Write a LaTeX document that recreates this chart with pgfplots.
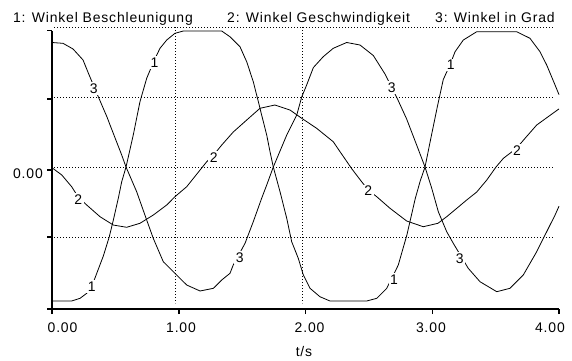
\documentclass[border=0pt]{standalone}
\usepackage{fontspec}
\setmainfont{Liberation Sans}[LetterSpace=6]
\usepackage{pgfplots}
\pgfplotsset{compat=1.18}
\begin{document}
\begin{tikzpicture}[font=\fontsize{14}{16}\selectfont]
\begin{axis}[
  x=126.75bp, y=70bp,
  xmin=0, xmax=4, ymin=-2.03, ymax=1.95,
  axis x line=bottom, axis y line=left,
  axis line style={-, line width=2bp, black},
  xtick={0,1,2,3,4}, ytick={-2.03,-1.0,-0.04,0.97,1.95},
  xticklabels={,,,,}, yticklabels={,,,,},
  tick align=outside, major tick length=5bp,
  tick style={line width=1.5bp, black},
  clip=false,
  grid style={black, line width=0.7bp, dash pattern=on 0.8bp off 2.2bp},
]
% invisible frame fixing the picture size
\path (axis cs:-0.4103,-2.757) rectangle (axis cs:4.1026,2.386);
% dotted grid
\addplot[black, line width=0.7bp, dash pattern=on 0.8bp off 2.2bp] coordinates {(0.016,2) (3.953,2)};
\addplot[black, line width=0.7bp, dash pattern=on 0.8bp off 2.2bp] coordinates {(0.016,1) (3.953,1)};
\addplot[black, line width=0.7bp, dash pattern=on 0.8bp off 2.2bp] coordinates {(0.016,0) (3.953,0)};
\addplot[black, line width=0.7bp, dash pattern=on 0.8bp off 2.2bp] coordinates {(0.016,-1) (3.953,-1)};
\addplot[black, line width=0.7bp, dash pattern=on 0.8bp off 2.2bp] coordinates {(0.970,2) (0.970,-1.943)};
\addplot[black, line width=0.7bp, dash pattern=on 0.8bp off 2.2bp] coordinates {(1.978,2) (1.978,-1.943)};
% 1: Winkel Beschleunigung
\addplot[black, line width=0.8bp, mark=none] table {
0 -1.914
0.155 -1.914
0.221 -1.876
0.274 -1.804
0.313 -1.710
0.353 -1.519
0.405 -1.271
0.452 -0.996
0.484 -0.757
0.523 -0.447
0.550 -0.21
0.584 0
0.641 0.457
0.694 0.933
0.747 1.267
0.773 1.38
0.813 1.55
0.852 1.696
0.905 1.814
0.970 1.910
1.036 1.943
1.339 1.943
1.404 1.861
1.483 1.719
1.536 1.504
1.588 1.219
1.628 0.933
1.654 0.743
1.694 0.457
1.720 0.219
1.746 0
1.799 -0.353
1.852 -0.733
1.891 -1.067
1.943 -1.304
1.983 -1.543
2.036 -1.733
2.114 -1.853
2.193 -1.914
2.483 -1.914
2.562 -1.876
2.641 -1.733
2.682 -1.586
2.732 -1.4
2.800 -0.97
2.866 -0.45
2.905 -0.2
2.943 0
2.990 0.42
3.040 0.86
3.087 1.25
3.140 1.46
3.180 1.647
3.245 1.814
3.351 1.933
3.666 1.933
3.771 1.839
3.850 1.647
3.903 1.457
3.969 1.171
4.0 1.034
};
% 2: Winkel Geschwindigkeit
\addplot[black, line width=0.8bp, mark=none] table {
0 -0.01
0.077 -0.114
0.155 -0.281
0.207 -0.43
0.274 -0.543
0.379 -0.71
0.484 -0.829
0.589 -0.861
0.694 -0.804
0.799 -0.686
0.905 -0.543
0.970 -0.424
1.063 -0.281
1.168 -0.043
1.221 0.076
1.270 0.16
1.339 0.314
1.430 0.5
1.536 0.671
1.641 0.839
1.759 0.886
1.878 0.814
1.970 0.696
2.088 0.553
2.219 0.361
2.272 0.22
2.367 -0.03
2.443 -0.21
2.495 -0.33
2.562 -0.424
2.667 -0.59
2.798 -0.771
2.929 -0.853
3.045 -0.804
3.114 -0.71
3.272 -0.471
3.351 -0.357
3.430 -0.186
3.503 0
3.561 0.124
3.613 0.196
3.666 0.27
3.732 0.41
3.824 0.6
3.969 0.79
4.0 0.83
};
% 3: Winkel in Grad
\addplot[black, line width=0.8bp, mark=none] table {
0 1.779
0.087 1.767
0.166 1.686
0.245 1.529
0.287 1.34
0.373 0.971
0.434 0.714
0.458 0.6
0.550 0.171
0.584 0
0.668 -0.353
0.747 -0.757
0.799 -1.019
0.878 -1.353
0.970 -1.519
1.063 -1.686
1.168 -1.771
1.273 -1.733
1.339 -1.614
1.404 -1.519
1.430 -1.4
1.523 -1.09
1.588 -0.781
1.654 -0.447
1.694 -0.257
1.746 0
1.852 0.457
1.931 0.743
1.970 1.0
2.009 1.171
2.062 1.421
2.140 1.576
2.219 1.696
2.325 1.779
2.430 1.743
2.535 1.593
2.627 1.329
2.726 0.971
2.798 0.686
2.877 0.314
2.943 0
2.996 -0.304
3.048 -0.639
3.114 -0.924
3.166 -1.09
3.284 -1.447
3.377 -1.639
3.509 -1.781
3.613 -1.733
3.718 -1.543
3.824 -1.21
3.903 -0.924
3.969 -0.686
4.0 -0.56
};
% curve labels
\tikzset{cl/.style={fill=white, inner sep=1.5bp}}
\node[cl] at (axis cs:0.313,-1.71) {1};
\node[cl] at (axis cs:0.809,1.497) {1};
\node[cl] at (axis cs:2.698,-1.61) {1};
\node[cl] at (axis cs:3.146,1.457) {1};
\node[cl] at (axis cs:0.207,-0.469) {2};
\node[cl] at (axis cs:1.276,0.14) {2};
\node[cl] at (axis cs:2.495,-0.343) {2};
\node[cl] at (axis cs:3.669,0.236) {2};
\node[cl] at (axis cs:0.329,1.124) {3};
\node[cl] at (axis cs:1.481,-1.293) {3};
\node[cl] at (axis cs:2.680,1.133) {3};
\node[cl] at (axis cs:3.217,-1.303) {3};
% titles
\node[anchor=base west, inner sep=0] at (axis cs:-0.308,2.071) {1: Winkel Beschleunigung};
\node[anchor=base west, inner sep=0] at (axis cs:1.381,2.071) {2: Winkel Geschwindigkeit};
\node[anchor=base west, inner sep=0] at (axis cs:3.022,2.071) {3: Winkel in Grad};
% tick labels
\node[anchor=east, inner sep=0] at (axis cs:-0.071,-0.093) {0.00};
\node[anchor=base, inner sep=0] at (axis cs:0.083,-2.371) {0.00};
\node[anchor=base, inner sep=0] at (axis cs:1.018,-2.371) {1.00};
\node[anchor=base, inner sep=0] at (axis cs:2.032,-2.371) {2.00};
\node[anchor=base, inner sep=0] at (axis cs:2.990,-2.371) {3.00};
\node[anchor=base, inner sep=0] at (axis cs:3.929,-2.371) {4.00};
\node[anchor=base, inner sep=0] at (axis cs:1.988,-2.7) {t/s};
\end{axis}
\end{tikzpicture}
\end{document}
